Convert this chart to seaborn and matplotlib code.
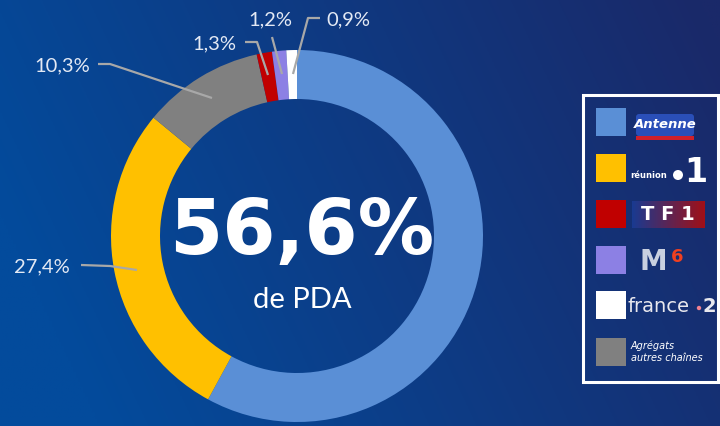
import numpy as np
import matplotlib
matplotlib.use("Agg")
import matplotlib.pyplot as plt
import seaborn as sns
from matplotlib.patches import Rectangle, FancyBboxPatch, Circle

# ---- data ----
channels = ["Antenne Réunion", "Réunion La 1ère", "TF1", "M6", "France 2", "Agrégats autres chaînes"]
shares = [56.6, 27.4, 1.3, 1.2, 0.9, 10.3]
share_labels = ["56,6%", "27,4%", "1,3%", "1,2%", "0,9%", "10,3%"]
seg_colors = ["#5a8fd6", "#ffc000", "#c00000", "#8c80e4", "#ffffff", "#808080"]
# pie order (clockwise from top)
pie_order = [0, 1, 5, 2, 3, 4]
headline = "56,6%"
subline = "de PDA"

sns.set_theme(style="white")
plt.rcParams['font.family'] = ['DejaVu Sans']

W, H = 720, 426
fig = plt.figure(figsize=(W / 100, H / 100), dpi=100)
ax = fig.add_axes([0, 0, 1, 1])

def Y(y):
    return H - y

# background gradient
xs = np.linspace(0, 1, 300)
ys = np.linspace(0, 1, 200)
XX, YY = np.meshgrid(xs, ys)
c_left = np.array([0x03, 0x4b, 0x9c]) / 255
c_right = np.array([0x1a, 0x29, 0x69]) / 255
t = np.clip(XX * 0.9 - (YY - 0.5) * 0.25, 0, 1)[..., None]
img = c_left * (1 - t) + c_right * t
ax.imshow(img, extent=[0, W, 0, H], origin="upper", aspect="auto", zorder=0)

palette = sns.color_palette([seg_colors[i] for i in pie_order])
cx, cy, R, width = 297, 236, 186, 49
ax.pie([shares[i] for i in pie_order], colors=palette, startangle=90, counterclock=False,
       radius=R, center=(cx, Y(cy)), wedgeprops=dict(width=width, edgecolor="none", linewidth=0),
       frame=True)
ax.set_xlim(0, W)
ax.set_ylim(0, H)
ax.set_aspect("equal")
ax.axis("off")

# center text
ax.text(cx + 5, Y(233), headline, color="white", fontsize=55, fontweight="bold",
        ha="center", va="center", zorder=5)
ax.text(cx + 5, Y(300), subline, color="white", fontsize=21,
        ha="center", va="center", family=["Lato", "DejaVu Sans"], zorder=5)

# labels with leader lines
lab_col = "#e3e9f4"
line_col = "#a8a8a8"
lab_fs = 14.5
lab_font = ["Lato", "DejaVu Sans"]

def leader(pts):
    xs_, ys_ = zip(*pts)
    ax.plot(xs_, [Y(v) for v in ys_], color=line_col, lw=1.6, zorder=4, solid_capstyle="butt")

def label(x, y, s):
    ax.text(x, Y(y), s, color=lab_col, fontsize=lab_fs,
            ha="center", va="center", family=lab_font)

leader([(320, 18), (308, 18), (293, 74)])
label(348, 20, share_labels[4])
leader([(272, 37), (282, 74)])
label(270, 20, share_labels[3])
leader([(245, 42), (257, 42), (268, 75)])
label(214, 44, share_labels[2])
leader([(98, 64), (110, 64), (212, 98)])
label(62, 66, share_labels[5])
leader([(81, 265), (110, 266), (137, 270)])
label(42, 267, share_labels[1])

# legend box
ax.add_patch(Rectangle((583, Y(382)), 135, 287, facecolor="none", edgecolor="white", lw=2.2, zorder=5))
row_y = [122, 168, 214, 260, 305, 352]
for ry, col in zip(row_y, seg_colors):
    ax.add_patch(Rectangle((596, Y(ry + 14)), 30, 28, facecolor=col, edgecolor="none", zorder=6))

# logos approximated with text
# Antenne
ax.add_patch(FancyBboxPatch((636, Y(136)), 58, 22, boxstyle="round,pad=0,rounding_size=3",
                            facecolor="#2a4fb8", edgecolor="none", zorder=6))
ax.add_patch(Rectangle((636, Y(140)), 58, 4, facecolor="#d0202a", edgecolor="none", zorder=6))
ax.text(665, Y(124), "Antenne", color="white", fontsize=9.5, fontweight="bold", style="italic",
        ha="center", va="center", zorder=7)
# réunion 1
ax.text(630, Y(175), "réunion", color="white", fontsize=6, fontweight="bold", ha="left", va="center", zorder=7)
ax.add_patch(Circle((678, Y(175)), 5, facecolor="white", edgecolor="none", zorder=7))
ax.text(696, Y(172), "1", color="white", fontsize=24, fontweight="bold", ha="center", va="center", zorder=7)
# TF1
grad = np.linspace(0, 1, 50)[None, :, None]
tf_img = np.array([0x1a, 0x3a, 0x90]) / 255 * (1 - grad) + np.array([0xa0, 0x10, 0x18]) / 255 * grad
ax.imshow(tf_img, extent=[632, 705, Y(228), Y(201)], aspect="auto", zorder=6)
ax.text(668, Y(214), "T F 1", color="white", fontsize=14, fontweight="heavy", ha="center", va="center", zorder=7)
# M6
ax.text(653, Y(262), "M", color="#c8d0e0", fontsize=20, fontweight="bold", ha="center", va="center", zorder=7)
ax.text(677, Y(257), "6", color="#f04020", fontsize=13, fontweight="bold", ha="center", va="center", zorder=8)
# france 2
ax.text(628, Y(306), "france", color="#e8e8ee", fontsize=14, ha="left", va="center", zorder=7)
ax.add_patch(Circle((699, Y(308)), 2.2, facecolor="#f08090", edgecolor="none", zorder=7))
ax.text(709, Y(306), "2", color="#e8e8ee", fontsize=14, fontweight="bold", ha="center", va="center", zorder=7)
# Agrégats
ax.text(631, Y(352), "Agrégats\nautres chaînes", color="white", fontsize=7, style="italic",
        ha="left", va="center", linespacing=1.3, zorder=7)

fig.savefig("out.png", dpi=100)
